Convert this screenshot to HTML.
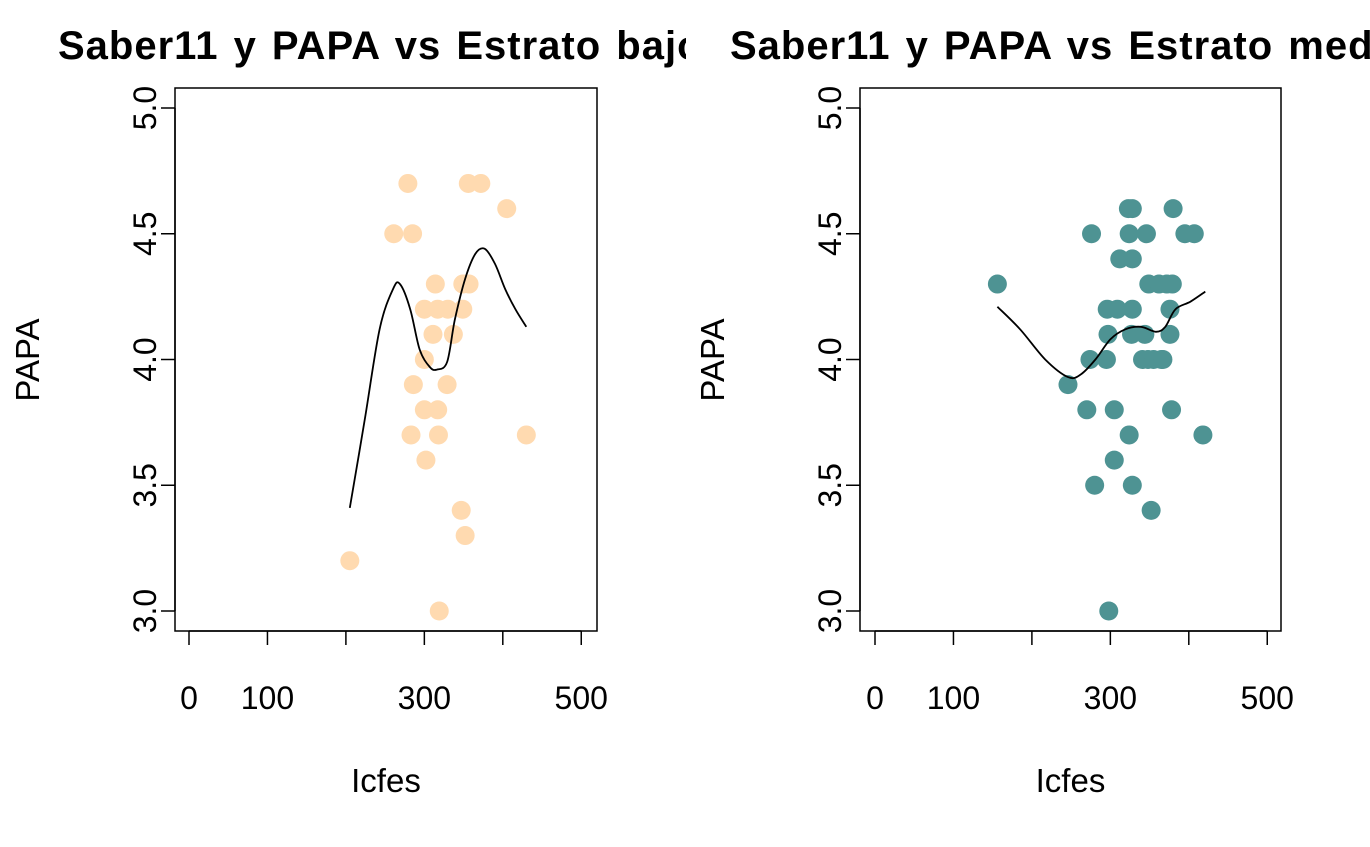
<!DOCTYPE html>
<html><head><meta charset="utf-8"><style>
html,body{margin:0;padding:0;background:#fff}
svg{display:block;font-family:"Liberation Sans",Arial,sans-serif}
</style></head><body>
<svg id="c" width="1370" height="847" xmlns="http://www.w3.org/2000/svg">
<defs>
<clipPath id="cl"><rect x="0" y="0" width="686" height="847"/></clipPath>
<clipPath id="cr"><rect x="686" y="0" width="684" height="847"/></clipPath>
</defs>
</svg>
<script>
const xTicks=[0,100,200,300,400,500];
const xTickLabels=["0","100","","300","","500"];
const yTicks=[3.0,3.5,4.0,4.5,5.0];
const yTickLabels=["3.0","3.5","4.0","4.5","5.0"];
const lowX=[205,261,279,285,286,283,300,300,300,302,314,311,317,317,318,319,330,329,337,347,349,349,352,356,357,372,405,430];
const lowY=[3.2,4.5,4.7,4.5,3.9,3.7,4.2,4.0,3.8,3.6,4.3,4.1,4.2,3.8,3.7,3.0,4.2,3.9,4.1,3.4,4.3,4.2,3.3,4.7,4.3,4.7,4.6,3.7];
const lowCurveX=[205,224,243,260,269,282,294,307,316,329,339,352,365,377,390,403,416,430];
const lowCurveY=[3.41,3.76,4.12,4.28,4.30,4.20,4.04,3.97,3.96,3.99,4.16,4.32,4.42,4.44,4.38,4.28,4.20,4.13];
const midX=[156,246,270,274,276,280,295,296,297,298,305,305,309,312,323,324,324,327,328,328,328,328,341,344,346,348,349,352,355,362,365,367,372,376,376,378,379,380,395,407,418];
const midY=[4.3,3.9,3.8,4.0,4.5,3.5,4.0,4.2,4.1,3.0,3.6,3.8,4.2,4.4,4.6,4.5,3.7,4.1,4.6,4.4,4.2,3.5,4.0,4.1,4.5,4.0,4.3,3.4,4.0,4.3,4.0,4.0,4.3,4.1,4.2,3.8,4.3,4.6,4.5,4.5,3.7];
const midCurveX=[156,185,217,246,262,281,300,319,339,358,370,383,402,421];
const midCurveY=[4.21,4.12,4.00,3.93,3.94,4.00,4.08,4.12,4.13,4.11,4.13,4.20,4.23,4.27];

const NS="http://www.w3.org/2000/svg";
const svg=document.getElementById('c');
function mk(t,a,p){const e=document.createElementNS(NS,t);for(const k in a)e.setAttribute(k,a[k]);(p||svg).appendChild(e);return e;}
function smooth(pts){
  let d='M'+pts[0][0].toFixed(1)+' '+pts[0][1].toFixed(1);
  for(let i=0;i<pts.length-1;i++){
    const p0=pts[Math.max(0,i-1)],p1=pts[i],p2=pts[i+1],p3=pts[Math.min(pts.length-1,i+2)];
    const c1=[p1[0]+(p2[0]-p0[0])/6,p1[1]+(p2[1]-p0[1])/6];
    const c2=[p2[0]-(p3[0]-p1[0])/6,p2[1]-(p3[1]-p1[1])/6];
    d+=` C${c1[0].toFixed(1)} ${c1[1].toFixed(1)} ${c2[0].toFixed(1)} ${c2[1].toFixed(1)} ${p2[0].toFixed(1)} ${p2[1].toFixed(1)}`;
  }
  return d;
}

function panel(o){
  const g=mk('g',{'clip-path':o.clip});
  
  
  const x0=o.x0, sx=0.7845, yTop=108, sy=251.5;
  const X=v=>x0+v*sx, Y=v=>yTop+(5-v)*sy;
  const box=mk('rect',{x:o.bx,y:88,width:o.bw,height:543,fill:'none',stroke:'#000','stroke-width':1.5},g);
  
  
  const title=mk('text',{x:o.tx,y:59,'font-size':40,'font-weight':'bold','word-spacing':3,'letter-spacing':1},g);
  title.textContent=o.title;
  
  
  mk('line',{x1:X(0),x2:X(500),y1:631,y2:631,stroke:'#000','stroke-width':1.5},g);
  xTicks.forEach((t,i)=>{
    mk('line',{x1:X(t),x2:X(t),y1:631,y2:645,stroke:'#000','stroke-width':1.5},g);
    if(xTickLabels[i]){const tl=mk('text',{x:X(t),y:709,'font-size':32,'text-anchor':'middle'},g);tl.textContent=xTickLabels[i];
      
      }
  });
  mk('line',{x1:o.bx,x2:o.bx,y1:Y(3),y2:Y(5),stroke:'#000','stroke-width':1.5},g);
  yTicks.forEach((t,i)=>{
    mk('line',{x1:o.bx,x2:o.bx-14,y1:Y(t),y2:Y(t),stroke:'#000','stroke-width':1.5},g);
    const cx=o.bx-30;
    const tl=mk('text',{x:cx,y:Y(t)+11,'font-size':32,'text-anchor':'middle',transform:`rotate(-90 ${cx} ${Y(t)})`},g);
    tl.textContent=yTickLabels[i];
    
    
  });
  const xl=mk('text',{x:o.bx+o.bw/2,y:792,'font-size':33,'text-anchor':'middle'},g);xl.textContent='Icfes';
  
  
  const yl=mk('text',{x:o.bx-136,y:360,'font-size':33,'text-anchor':'middle',transform:`rotate(-90 ${o.bx-136} 360)`},g);yl.textContent='PAPA';
  
  
  o.px.forEach((v,i)=>{
    const c=mk('circle',{cx:X(v),cy:Y(o.py[i]),r:9.5,fill:o.color},g);
    
    
  });
  const pts=o.cx.map((v,i)=>[X(v),Y(o.cy[i])]);
  const p=mk('path',{d:smooth(pts),fill:'none',stroke:'#000','stroke-width':1.8},g);
  
  
}
panel({name:'panel-estrato-bajo',clip:'url(#cl)',x0:189,bx:175,bw:422,tx:58,title:'Saber11 y PAPA vs Estrato bajo',color:'#FFDAB0',px:lowX,py:lowY,cx:lowCurveX,cy:lowCurveY});
panel({name:'panel-estrato-medio',clip:'url(#cr)',x0:875,bx:860,bw:421,tx:730,title:'Saber11 y PAPA vs Estrato medio',color:'#4E9393',px:midX,py:midY,cx:midCurveX,cy:midCurveY});
</script>
</body></html>
